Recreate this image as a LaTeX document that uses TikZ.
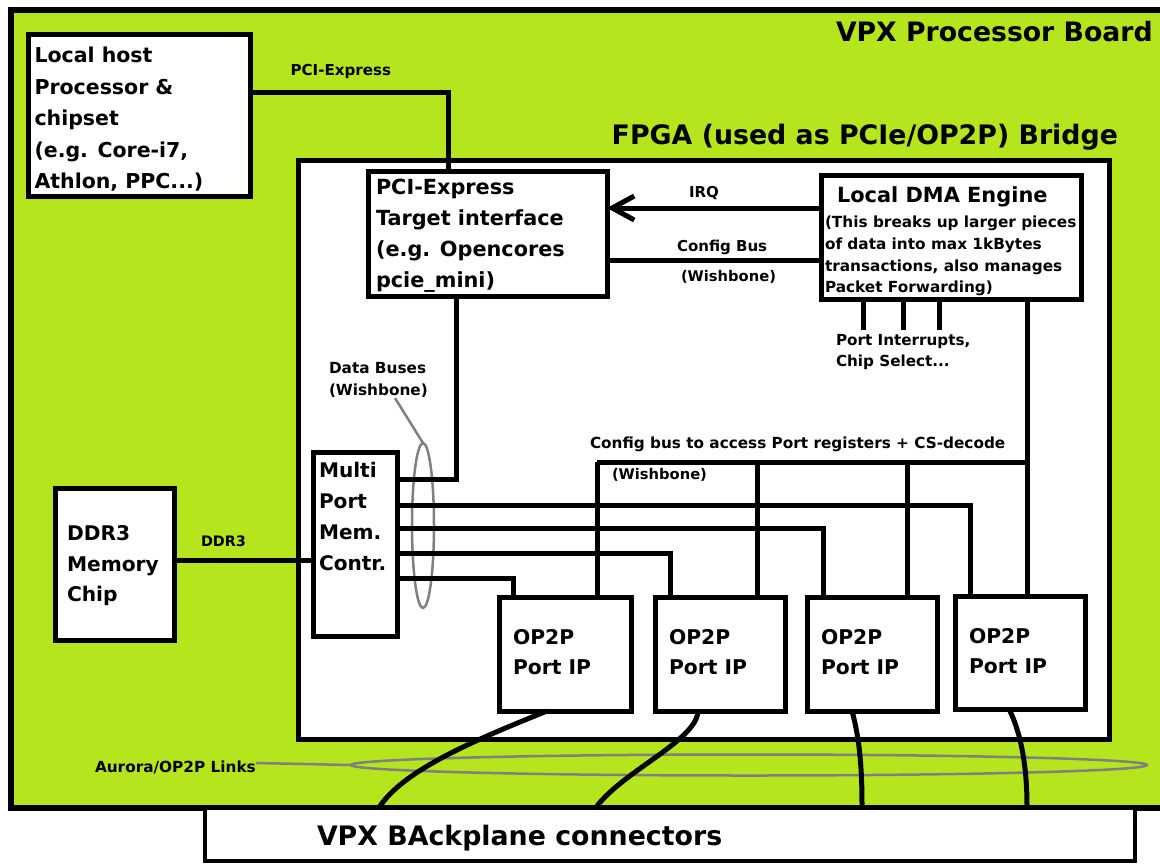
\documentclass[tikz,border=0pt]{standalone}
\usepackage{fontspec}
\setmainfont{DejaVu Sans}
\usetikzlibrary{arrows.meta,shapes.geometric}
\definecolor{boardgreen}{RGB}{181,230,29}
\definecolor{ringgray}{RGB}{128,128,128}
\newcommand\fsz[2]{\fontsize{#1}{#2}\selectfont\bfseries}
\begin{document}
\begin{tikzpicture}[x=1pt,y=-1pt,
  wire/.style={draw=black, line width=5pt},
  boxS/.style={draw=black, line width=5pt, fill=white, inner sep=0pt, outer sep=0pt},
  txt/.style={inner sep=0pt, outer sep=0pt, align=left, anchor=north west, text=black},
  lbl/.style={inner sep=0pt, outer sep=0pt, anchor=base west, text=black},
  ring/.style={draw=ringgray, line width=2.5pt, ellipse, inner sep=0pt, outer sep=0pt},
  ringline/.style={draw=ringgray, line width=2.5pt},
  link/.style={draw=black, line width=5pt}
]
\useasboundingbox (0,0) rectangle (1160,863);
\fill[white] (0,0) rectangle (1160,863);
% board
\node[draw=black, line width=6pt, fill=boardgreen, inner sep=0pt, minimum width=1169.5pt, minimum height=798.5pt] (board) at (595.25,408.75) {};
\node[lbl, font=\fsz{26.7}{30}] (boardT) at (836,41) {VPX Processor Board};
% host
\node[boxS, minimum width=221.5pt, minimum height=162pt] (host) at (139.25,115.5) {};
\node[txt, font=\fsz{20.5}{31.5}] (hostT) at (34.5,42) {\rule{0pt}{20.5pt}Local host\\Processor \&\\chipset\\(e.g. Core-i7,\\Athlon, PPC...)};
\node[lbl, font=\fsz{15.1}{18}] (pcieL) at (290.5,75) {PCI-Express};
% DDR
\node[boxS, minimum width=119pt, minimum height=152pt] (ddr) at (114.5,564) {};
\node[txt, font=\fsz{20.2}{30.5}] (ddrT) at (67,520.5) {\rule{0pt}{20.2pt}DDR3\\Memory\\Chip};
\node[lbl, font=\fsz{14.4}{18}] (ddrL) at (201,546) {DDR3};
% FPGA
\node[draw=black, line width=5pt, fill=white, inner sep=0pt, minimum width=811pt, minimum height=579pt] (fpga) at (703.5,449.5) {};
\node[inner sep=0pt, outer sep=0pt, anchor=base east, font=\fsz{26.8}{30}] (fpgaT) at (1118,144.3) {FPGA (used as PCIe/OP2P) Bridge};
% PCIe
\node[boxS, minimum width=239pt, minimum height=125pt] (pcie) at (487.5,233.5) {};
\node[txt, font=\fsz{20.8}{31}] (pcieT) at (376,173.7) {\rule{0pt}{20.8pt}PCI-Express\\Target interface\\(e.g. Opencores\\pcie\_mini)};
% DMA
\node[boxS, minimum width=260pt, minimum height=124pt] (dma) at (951,237) {};
\node[lbl, font=\fsz{20.9}{25}] (dmaT) at (837,202.6) {Local DMA Engine};
\node[txt, font=\fsz{15.3}{21.7}] (dmaB) at (825,212.4) {\rule{0pt}{15.3pt}(This breaks up larger pieces\\of data into max 1kBytes\\transactions, also manages\\Packet Forwarding)};
\node[lbl, font=\fsz{15}{18}] (irqL) at (689,197.3) {IRQ};
\node[lbl, font=\fsz{15}{18}] (cfgL1) at (677,251.7) {Config Bus};
\node[lbl, font=\fsz{14.7}{18}] (cfgL2) at (681,281.7) {(Wishbone)};
\node[txt, font=\fsz{15.2}{21.7}] (portT) at (836,329.8) {\rule{0pt}{15.2pt}Port Interrupts,\\Chip Select...};
% MPMC
\node[boxS, minimum width=84pt, minimum height=184pt] (mpmc) at (355,544) {};
\node[txt, font=\fsz{20.1}{31}] (mpmcT) at (319,457.4) {\rule{0pt}{20.1pt}Multi\\Port\\Mem.\\Contr.};
\node[txt, font=\fsz{15.3}{21.7}] (dbT) at (329,358) {\rule{0pt}{15.3pt}Data Buses\\(Wishbone)};
\node[lbl, font=\fsz{15.27}{18}] (cfgBusT) at (590,448.3) {Config bus to access Port registers + CS-decode};
\node[lbl, font=\fsz{14.7}{18}] (cfgBusW) at (612,479.5) {(Wishbone)};
% OP2P ports
\node[boxS, minimum width=132pt, minimum height=114pt] (op1) at (565,654) {};
\node[boxS, minimum width=130pt, minimum height=114pt] (op2) at (720,654) {};
\node[boxS, minimum width=130pt, minimum height=114pt] (op3) at (872,654) {};
\node[boxS, minimum width=130pt, minimum height=113pt] (op4) at (1020,652.5) {};
\node[txt, font=\fsz{20.3}{30}] (op1T) at (513,624.5) {\rule{0pt}{20.3pt}OP2P\\Port IP};
\node[txt, font=\fsz{20.3}{30}] (op2T) at (669,624.5) {\rule{0pt}{20.3pt}OP2P\\Port IP};
\node[txt, font=\fsz{20.3}{30}] (op3T) at (821,624.5) {\rule{0pt}{20.3pt}OP2P\\Port IP};
\node[txt, font=\fsz{20.3}{30}] (op4T) at (969,623.3) {\rule{0pt}{20.3pt}OP2P\\Port IP};
% backplane
\node[draw=black, line width=4pt, fill=white, inner sep=0pt, minimum width=929.5pt, minimum height=53pt] (bp) at (669.75,834.5) {};
\node[lbl, font=\fsz{26.8}{30}] (bpT) at (317,845) {VPX BAckplane connectors};
% rings
\node[ring, minimum width=22pt, minimum height=165pt] (dbRing) at (423,525.5) {};
\draw[ringline] (395,398) -- (dbRing.north);
\node[lbl, font=\fsz{15.3}{18}] (auroraT) at (95,772) {Aurora/OP2P Links};
\node[ring, minimum width=796pt, minimum height=21pt] (auRing) at (749,765) {};
\draw[ringline] (auroraT.east |- 0,763) -- (auRing.west);
% connectors
\draw[wire] (host.east |- 0,92) -| (448,0 |- pcie.north);
\draw[wire, -{Straight Barb[length=22pt,width=24pt]}] (dma.west |- 0,208) -- (pcie.east |- 0,208);
\draw[wire] (dma.west |- 0,260) -- (pcie.east |- 0,260);
\draw[wire] (456,0 |- pcie.south) |- (mpmc.east |- 0,479);
\draw[wire] (ddr.east |- 0,560) -- (mpmc.west |- 0,560);
\draw[wire] (mpmc.east |- 0,505) -| (970,0 |- op4.north);
\draw[wire] (mpmc.east |- 0,528) -| (823,0 |- op3.north);
\draw[wire] (mpmc.east |- 0,553) -| (670,0 |- op2.north);
\draw[wire] (mpmc.east |- 0,578) -| (513,0 |- op1.north);
\coordinate (s1) at (863,330);
\coordinate (s2) at (903,330);
\coordinate (s3) at (939,330);
\draw[wire] (s1 |- dma.south) -- (s1);
\draw[wire] (s2 |- dma.south) -- (s2);
\draw[wire] (s3 |- dma.south) -- (s3);
\coordinate (cbL) at (597,462);
\coordinate (cbR) at (1027,462);
\draw[wire] (cbR |- dma.south) -- (cbR |- op4.north);
\draw[wire] (cbL) -- (cbR);
\draw[wire] (cbL) -- (cbL |- op1.north);
\draw[wire] (757,462) -- (757,0 |- op2.north);
\draw[wire] (907,462) -- (907,0 |- op3.north);
% links
\draw[link] (547,0 |- op1.south) .. controls (470,742) and (405,770) .. (380,0 |- bp.north);
\draw[link] (698,0 |- op2.south) .. controls (697,740) and (625,770) .. (597,0 |- bp.north);
\draw[link] (852,0 |- op3.south) .. controls (860,740) and (862,770) .. (862,0 |- bp.north);
\draw[link] (1009,0 |- op4.south) .. controls (1022,735) and (1027,770) .. (1027,0 |- bp.north);
\end{tikzpicture}
\end{document}
